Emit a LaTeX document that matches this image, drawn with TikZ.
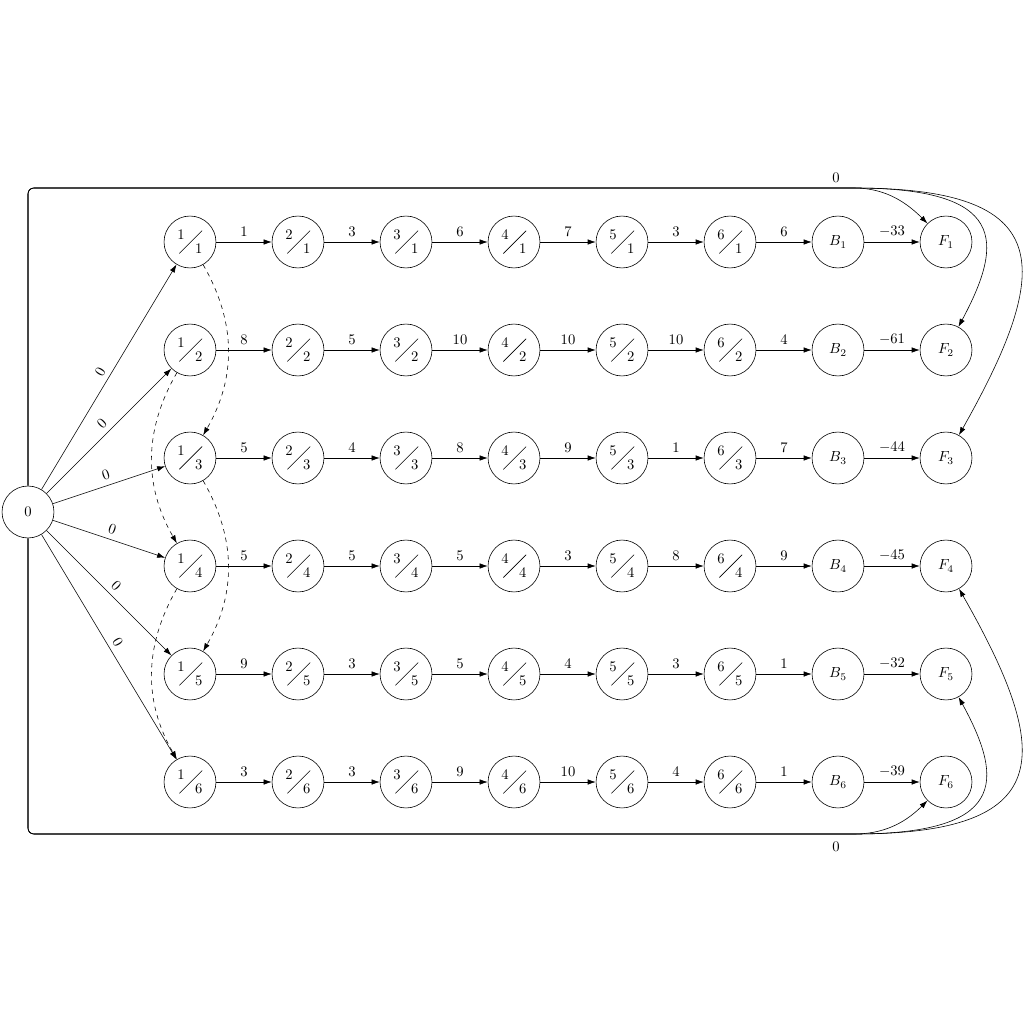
\documentclass[tikz,border=0pt]{standalone}
\usepackage{graphicx}
\usetikzlibrary{arrows.meta,calc}
\newcommand{\fr}[2]{\raisebox{4.8pt}{#1}\kern-3.85pt\raisebox{-4.65pt}{\rotatebox{45}{\rule{22pt}{0.4pt}}}\kern-4.85pt\raisebox{-4.8pt}{#2}}
\begin{document}
\begin{tikzpicture}[x=0.6836pt,y=0.6836pt,
  st/.style={draw,circle,minimum size=35.5pt,inner sep=0pt},
  arr/.style={-{Latex[length=5.5pt,width=3.7pt]}},
  lbl/.style={above},
  dsh/.style={arr,dashed}]
\useasboundingbox (0,0) rectangle (1024,-1024);
\node[st] (n0) at (28,-512) {0};
\foreach \i in {1,...,6}{
  \foreach \j in {1,...,6}{
    \node[st] (n\i-\j) at ({190+108*(\j-1)},{-242-108*(\i-1)}) {\fr{\j}{\i}};
  }
  \node[st] (B\i) at (838,{-242-108*(\i-1)}) {$B_\i$};
  \node[st] (F\i) at (946,{-242-108*(\i-1)}) {$F_\i$};
  \draw[arr] (n0) -- node[sloped,above]{0} (n\i-1);
}
\foreach \i/\labA/\labB/\labC/\labD/\labE/\labF/\labG in {1/1/3/6/7/3/6/-33,2/8/5/10/10/10/4/-61,3/5/4/8/9/1/7/-44,4/5/5/5/3/8/9/-45,5/9/3/5/4/3/1/-32,6/3/3/9/10/4/1/-39}{
  \draw[arr] (n\i-1) -- node[lbl]{$\labA$} (n\i-2);
  \draw[arr] (n\i-2) -- node[lbl]{$\labB$} (n\i-3);
  \draw[arr] (n\i-3) -- node[lbl]{$\labC$} (n\i-4);
  \draw[arr] (n\i-4) -- node[lbl]{$\labD$} (n\i-5);
  \draw[arr] (n\i-5) -- node[lbl]{$\labE$} (n\i-6);
  \draw[arr] (n\i-6) -- node[lbl]{$\labF$} (B\i);
  \draw[arr] (B\i) -- node[lbl]{$\labG$} (F\i);
}
\draw[dsh] (n1-1) to[bend left] (n3-1);
\draw[dsh] (n3-1) to[bend left] (n5-1);
\draw[dsh] (n2-1) to[bend right] (n4-1);
\draw[dsh] (n4-1) to[bend right] (n6-1);
\coordinate (tc) at (848,-188);
\coordinate (bc) at (848,-834);
\draw[arr,rounded corners] (n0) |- (tc) [sharp corners] to[out=0,in=135] (F1);
\draw[arr,rounded corners] (n0) |- (tc) [sharp corners] .. controls (1005,-188) and (1005,-240) .. (F2);
\draw[arr,rounded corners] (n0) |- (tc) [sharp corners] .. controls (1055,-188) and (1055,-265) .. (F3);
\draw[arr,rounded corners] (n0) |- (bc) [sharp corners] to[out=0,in=-135] (F6);
\draw[arr,rounded corners] (n0) |- (bc) [sharp corners] .. controls (1005,-834) and (1005,-782) .. (F5);
\draw[arr,rounded corners] (n0) |- (bc) [sharp corners] .. controls (1055,-834) and (1055,-757) .. (F4);
\node[above] (tl) at (836,-188) {0};
\node[below,yshift=-2pt] (bl) at (836,-834) {0};
\end{tikzpicture}
\end{document}
